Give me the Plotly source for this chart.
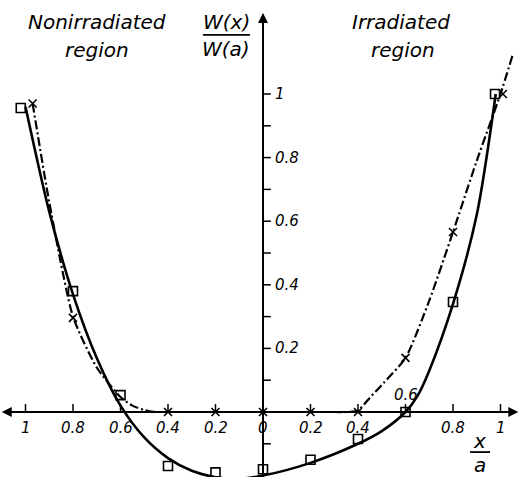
import plotly.graph_objects as go

# x/a (negative = nonirradiated side), W(x)/W(a)
sq_x = [-1.02, -0.8, -0.6, -0.4, -0.2, 0.0, 0.2, 0.4, 0.6, 0.8, 0.977]
sq_w = [0.956, 0.38, 0.053, -0.17, -0.19, -0.18, -0.15, -0.085, 0.0, 0.346, 1.0]

cr_x = [-0.97, -0.8, -0.4, -0.2, 0.0, 0.2, 0.4, 0.6, 0.8, 1.01]
cr_w = [0.97, 0.296, 0.0, 0.0, 0.0, 0.0, 0.0, 0.17, 0.566, 1.0]

solid_x = [-1.0, -0.9, -0.8, -0.7, -0.6, -0.5, -0.4, -0.3, -0.2, -0.1, 0.0, 0.2, 0.4, 0.5, 0.6, 0.65, 0.7, 0.8, 0.9, 0.98]
solid_w = [0.96, 0.63, 0.37, 0.17, 0.02, -0.08, -0.145, -0.185, -0.205, -0.21, -0.2, -0.16, -0.1, -0.06, 0.0, 0.05, 0.13, 0.34, 0.62, 1.0]

dd_x = [-0.97, -0.9, -0.8, -0.7, -0.6, -0.55, -0.5, -0.47, -0.44, -0.4, -0.3, -0.2, -0.1, 0.0, 0.1, 0.2, 0.3, 0.35, 0.4, 0.45, 0.5, 0.6, 0.7, 0.8, 0.9, 1.0, 1.05]
dd_w = [0.97, 0.66, 0.30, 0.14, 0.047, 0.02, 0.006, 0.001, 0.0, 0.0, 0.0, 0.0, 0.0, 0.0, 0.0, 0.0, 0.0, 0.0, 0.005, 0.045, 0.085, 0.17, 0.35, 0.566, 0.79, 1.0, 1.12]

xtick_vals = [-1, -0.8, -0.6, -0.4, -0.2, 0, 0.2, 0.4, 0.6, 0.8, 1]
xtick_text = ["1", "0.8", "0.6", "0.4", "0.2", "0", "0.2", "0.4", "0.6", "0.8", "1"]
ytick_vals = [0.2, 0.4, 0.6, 0.8, 1.0]
ytick_text = ["0.2", "0.4", "0.6", "0.8", "1"]
yminor_vals = [-0.1, 0.1, 0.3, 0.5, 0.7, 0.9]

FONT = "DejaVu Sans"
fig = go.Figure()

fig.add_trace(go.Scatter(x=solid_x, y=solid_w, mode="lines", line=dict(color="black", width=2.6, shape="spline", smoothing=0.8), showlegend=False, hoverinfo="skip"))
fig.add_trace(go.Scatter(x=dd_x, y=dd_w, mode="lines", line=dict(color="black", width=2.2, dash="9px,3px,2px,3px", shape="spline", smoothing=0.6), showlegend=False, hoverinfo="skip"))
fig.add_trace(go.Scatter(x=sq_x, y=sq_w, mode="markers", marker=dict(symbol="square-open", size=9, color="black", line=dict(width=1.6, color="black")), showlegend=False))
fig.add_trace(go.Scatter(x=cr_x, y=cr_w, mode="markers", marker=dict(symbol="x-thin-open", size=8, color="black", line=dict(width=1.6, color="black")), showlegend=False))

shapes = []
# axes
shapes.append(dict(type="line", x0=-1.07, x1=1.06, y0=0, y1=0, line=dict(color="black", width=2)))
shapes.append(dict(type="line", x0=0, x1=0, y0=-0.21, y1=1.25, line=dict(color="black", width=2)))
# x ticks (upwards)
for v in xtick_vals:
    if v == 0:
        continue
    shapes.append(dict(type="line", x0=v, x1=v, y0=0, y1=0.025, line=dict(color="black", width=1.5)))
# y ticks (to the right)
for v in ytick_vals + yminor_vals:
    shapes.append(dict(type="line", x0=0, x1=0.033, y0=v, y1=v, line=dict(color="black", width=1.5)))
# fraction bars
shapes.append(dict(type="line", x0=-0.253, x1=-0.055, y0=1.186, y1=1.186, line=dict(color="black", width=1.8)))
shapes.append(dict(type="line", x0=0.872, x1=0.956, y0=-0.126, y1=-0.126, line=dict(color="black", width=1.8)))

annotations = []
# arrowheads
annotations.append(dict(x=-1.1, y=0, ax=-1.0, ay=0, xref="x", yref="y", axref="x", ayref="y", showarrow=True, arrowhead=2, arrowsize=1, arrowwidth=2, arrowcolor="black", text=""))
annotations.append(dict(x=1.075, y=0, ax=1.0, ay=0, xref="x", yref="y", axref="x", ayref="y", showarrow=True, arrowhead=2, arrowsize=1, arrowwidth=2, arrowcolor="black", text=""))
annotations.append(dict(x=0, y=1.255, ax=0, ay=1.15, xref="x", yref="y", axref="x", ayref="y", showarrow=True, arrowhead=2, arrowsize=1, arrowwidth=2, arrowcolor="black", text=""))

tf = dict(family=FONT, size=15, color="black")
for v, t in zip(xtick_vals, xtick_text):
    if v == 0.6:
        annotations.append(dict(x=0.6, y=0.055, text="<i>" + t + "</i>", showarrow=False, font=tf, xanchor="center", yanchor="middle"))
    else:
        annotations.append(dict(x=v, y=-0.05, text="<i>" + t + "</i>", showarrow=False, font=tf, xanchor="center", yanchor="middle"))
for v, t in zip(ytick_vals, ytick_text):
    annotations.append(dict(x=0.04, y=v, text="<i>" + t + "</i>", showarrow=False, font=tf, xanchor="left", yanchor="middle"))

lf = dict(family=FONT, size=20, color="black")
annotations += [
    dict(x=-0.699, y=1.226, text="<i>Nonirradiated</i>", showarrow=False, font=lf, xanchor="center", yanchor="middle"),
    dict(x=-0.699, y=1.138, text="<i>region</i>", showarrow=False, font=lf, xanchor="center", yanchor="middle"),
    dict(x=0.58, y=1.226, text="<i>Irradiated</i>", showarrow=False, font=lf, xanchor="center", yanchor="middle"),
    dict(x=0.59, y=1.138, text="<i>region</i>", showarrow=False, font=lf, xanchor="center", yanchor="middle"),
    dict(x=-0.154, y=1.228, text="<i>W(x)</i>", showarrow=False, font=lf, xanchor="center", yanchor="middle"),
    dict(x=-0.154, y=1.140, text="<i>W(a)</i>", showarrow=False, font=lf, xanchor="center", yanchor="middle"),
    dict(x=0.912, y=-0.092, text="<i>x</i>", showarrow=False, font=lf, xanchor="center", yanchor="middle"),
    dict(x=0.912, y=-0.166, text="<i>a</i>", showarrow=False, font=lf, xanchor="center", yanchor="middle"),
]

fig.update_layout(
    width=519, height=477,
    margin=dict(l=0, r=0, t=0, b=0),
    paper_bgcolor="white", plot_bgcolor="white",
    xaxis=dict(range=[-263 / 237.5, 256 / 237.5], visible=False, fixedrange=True),
    yaxis=dict(range=[-65 / 318, 412 / 318], visible=False, fixedrange=True),
    shapes=shapes, annotations=annotations,
    showlegend=False,
)

fig.write_html("out.html", config={"displayModeBar": False, "staticPlot": True},
               post_script="document.body.style.margin='0';document.body.style.overflow='hidden';")
